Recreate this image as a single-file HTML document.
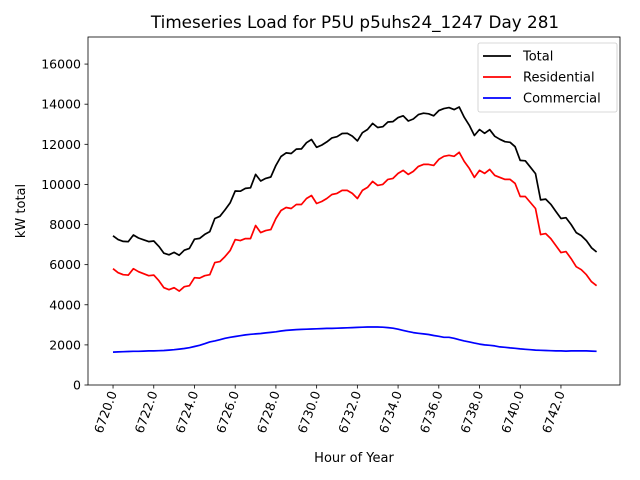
<!DOCTYPE html>
<html><head><meta charset="utf-8"><style>
body{margin:0;background:#fff}
svg{display:block;font-family:"DejaVu Sans","Liberation Sans",sans-serif}
</style></head><body>
<svg id="c" width="640" height="480"></svg>
<script>
const residential=[5800,5600,5500,5480,5800,5650,5550,5450,5480,5200,4850,4750,4850,4680,4900,4950,5350,5330,5450,5500,6100,6150,6400,6700,7250,7200,7300,7300,7950,7600,7700,7750,8300,8700,8850,8800,9000,9000,9300,9450,9050,9150,9300,9500,9550,9700,9700,9550,9300,9700,9850,10150,9950,10000,10250,10300,10550,10700,10500,10650,10900,11000,11000,10950,11250,11400,11450,11400,11600,11150,10800,10350,10700,10550,10750,10450,10350,10250,10250,10050,9400,9400,9100,8800,7500,7550,7300,6950,6600,6650,6300,5900,5750,5500,5150,4950];
const commercial=[1640,1650,1660,1670,1680,1680,1690,1700,1700,1710,1720,1740,1760,1790,1820,1860,1920,1980,2060,2150,2200,2260,2330,2380,2420,2460,2500,2530,2550,2570,2600,2620,2650,2690,2720,2740,2760,2770,2780,2790,2800,2810,2820,2820,2830,2840,2850,2860,2870,2880,2890,2890,2890,2880,2860,2830,2780,2720,2660,2610,2580,2550,2520,2470,2430,2380,2380,2330,2260,2200,2150,2090,2040,2000,1980,1950,1900,1880,1850,1830,1800,1780,1760,1740,1730,1720,1710,1700,1700,1690,1700,1700,1700,1700,1690,1680];
const total=[7440,7250,7160,7150,7480,7330,7240,7150,7180,6910,6570,6490,6610,6470,6720,6810,7270,7310,7510,7650,8300,8410,8730,9080,9670,9660,9800,9830,10500,10170,10300,10370,10950,11390,11570,11540,11760,11770,12080,12240,11850,11960,12120,12320,12380,12540,12550,12410,12170,12580,12740,13040,12840,12880,13110,13130,13330,13420,13160,13260,13480,13550,13520,13420,13680,13780,13830,13730,13860,13350,12950,12440,12740,12550,12730,12400,12250,12130,12100,11880,11200,11180,10860,10540,9230,9270,9010,8650,8300,8340,8000,7600,7450,7200,6840,6630];
const startHour=6720, step=0.25;
const yTicks=[0,2000,4000,6000,8000,10000,12000,14000,16000];
const xTicks=[6720,6722,6724,6726,6728,6730,6732,6734,6736,6738,6740,6742];
const L=88,R=620,T=37,B=385;
const X0=6718.77,X1=6744.9,Y0=0,Y1=17350;
const sx=v=>L+(v-X0)/(X1-X0)*(R-L);
const sy=v=>B-(v-Y0)/(Y1-Y0)*(B-T);
const svg=document.getElementById('c');
const NS='http://www.w3.org/2000/svg';
function mk(t,a,txt){const e=document.createElementNS(NS,t);for(const k in a)e.setAttribute(k,a[k]);if(txt!=null)e.textContent=txt;svg.appendChild(e);return e;}
let e;
e=mk('text',{x:355,y:28,'text-anchor':'middle','font-size':16.8},'Timeseries Load for P5U p5uhs24_1247  Day 281');


yTicks.forEach(v=>{
 const y=sy(v);
 e=mk('line',{x1:L-3.5,x2:L,y1:y,y2:y,stroke:'#000','stroke-width':0.8});
 
 
 e=mk('text',{x:L-7,y:y+4.5,'text-anchor':'end','font-size':12.5},String(v));
 
 
});
xTicks.forEach(v=>{
 const x=sx(v);
 e=mk('line',{x1:x,x2:x,y1:B,y2:B+3.5,stroke:'#000','stroke-width':0.8});
 
 
 e=mk('text',{x:x+4,y:B+8,'text-anchor':'end','font-size':12.5,transform:`rotate(-70 ${x+4} ${B+8})`},v.toFixed(1));
 
 
});
function line(arr,color,name){
 const pts=arr.map((v,i)=>sx(startHour+i*step).toFixed(1)+','+sy(v).toFixed(1)).join(' ');
 const p=mk('polyline',{points:pts,fill:'none',stroke:color,'stroke-width':1.7,'stroke-linejoin':'round'});
 
 
}
line(total,'#000','total-line');
line(residential,'#ff0000','residential-line');
line(commercial,'#0000ff','commercial-line');
e=mk('rect',{x:L,y:T,width:R-L,height:B-T,fill:'none',stroke:'#000','stroke-width':0.8});


e=mk('text',{x:25,y:211,'text-anchor':'middle','font-size':13,transform:'rotate(-90 25 211)'},'kW total');


e=mk('text',{x:354,y:462,'text-anchor':'middle','font-size':13},'Hour of Year');


e=mk('rect',{x:478,y:43,width:139,height:69,rx:2,fill:'#fff','fill-opacity':0.8,stroke:'#ccc','stroke-width':0.8});


[['Total','#000',56],['Residential','#ff0000',77],['Commercial','#0000ff',98]].forEach(([n,c,y])=>{
 e=mk('line',{x1:483,x2:511,y1:y,y2:y,stroke:c,'stroke-width':1.7});
 
 
 e=mk('text',{x:523,y:y+4.5,'font-size':13},n);
 
 
});
</script>
</body></html>
